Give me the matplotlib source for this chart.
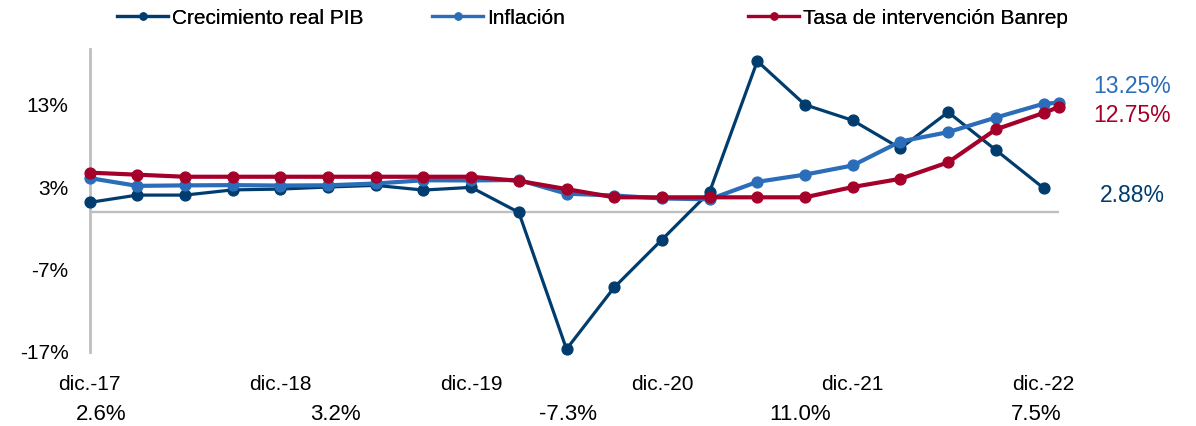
import matplotlib
matplotlib.use('Agg')
import matplotlib.pyplot as plt
from matplotlib.lines import Line2D

plt.rcParams['font.family'] = ['Liberation Sans', 'DejaVu Sans']

# ---- data ----
# months after dic.-17 (quarterly observations, last extra point = ene.-23)
months_q = [0, 3, 6, 9, 12, 15, 18, 21, 24, 27, 30, 33, 36, 39, 42, 45, 48, 51, 54, 57, 60]
months_m = months_q + [61]

gdp = [1.13, 2.02, 2.02, 2.65, 2.75, 3.0, 3.2, 2.63, 2.96, -0.08, -16.7, -9.2, -3.4,
       2.4, 18.3, 13.0, 11.1, 7.7, 12.1, 7.5, 2.88]
inflation = [4.09, 3.14, 3.20, 3.23, 3.18, 3.21, 3.43, 3.82, 3.80, 3.86, 2.19, 1.97, 1.61,
             1.51, 3.63, 4.51, 5.62, 8.53, 9.67, 11.44, 13.12, 13.25]
rate = [4.75, 4.50, 4.25, 4.25, 4.25, 4.25, 4.25, 4.25, 4.25, 3.75, 2.75, 1.75, 1.75,
        1.75, 1.75, 1.75, 3.00, 4.00, 6.00, 10.00, 12.00, 12.75]

series_names = ['Crecimiento real PIB', 'Inflación', 'Tasa de intervención Banrep']
end_labels = ['2.88%', '13.25%', '12.75%']

tick_months = [0, 12, 24, 36, 48, 60]
tick_labels = ['dic.-17', 'dic.-18', 'dic.-19', 'dic.-20', 'dic.-21', 'dic.-22']
y_ticks = [-17, -7, 3, 13]
y_tick_labels = ['-17%', '-7%', '3%', '13%']
annual_growth = ['2.6%', '3.2%', '-7.3%', '11.0%', '7.5%']

c_gdp = '#003D6E'
c_inf = '#2B6DB8'
c_rate = '#A5002A'
c_axis = '#BFBFBF'

W, H = 1196, 426
fig = plt.figure(figsize=(W / 100, H / 100), dpi=100)
ax = fig.add_axes([89.5 / W, (H - 351.6) / H, 969.9 / W, 302.4 / H])

ax.plot(months_q, gdp, color=c_gdp, lw=2.3, marker='o', ms=7.8, zorder=3, clip_on=False)
ax.plot(months_m, inflation, color=c_inf, lw=3.0, marker='o', ms=7.8, zorder=4, clip_on=False)
ax.plot(months_m, rate, color=c_rate, lw=3.0, marker='o', ms=7.8, zorder=5, clip_on=False)

ax.axhline(0, color=c_axis, lw=1.7, zorder=1)

ax.set_xlim(0, 61)
ax.set_ylim(-17, 19.75)

for s in ['top', 'right', 'bottom']:
    ax.spines[s].set_visible(False)
ax.spines['left'].set_color(c_axis)
ax.spines['left'].set_linewidth(2.0)

ax.set_yticks(y_ticks)
ax.set_yticklabels(y_tick_labels, fontsize=15)
ax.set_xticks(tick_months)
ax.set_xticklabels(tick_labels, fontsize=15)
ax.tick_params(axis='y', length=0, pad=15)
ax.tick_params(axis='x', length=0, pad=17)

# end-of-series labels
end_y_px = [195.8, 86.3, 115.0]
for txt, col, ypx in zip(end_labels, [c_gdp, c_inf, c_rate], end_y_px):
    fig.text(1132 / W, 1 - ypx / H, txt, color=col, fontsize=16.5, ha='center', va='center')

# annual growth row
annual_x_px = [101, 335, 568, 800, 1036]
for txt, xp in zip(annual_growth, annual_x_px):
    fig.text(xp / W, 1 - 415 / H, txt, fontsize=16, ha='center', va='center', color='black')

# legend (three entries placed like the reference)
legend_x_px = [117, 432, 748]
for name, col, xp in zip(series_names, [c_gdp, c_inf, c_rate], legend_x_px):
    h = Line2D([0], [0], color=col, lw=2.3, marker='o', ms=5)
    lg = fig.legend([h], [name], loc='center left', bbox_to_anchor=(xp / W, 1 - 18 / H),
                    frameon=False, fontsize=15, handlelength=2.45, handletextpad=0.2,
                    borderpad=0, borderaxespad=0)
    fig.add_artist(lg)

fig.savefig('out.png', dpi=100)
